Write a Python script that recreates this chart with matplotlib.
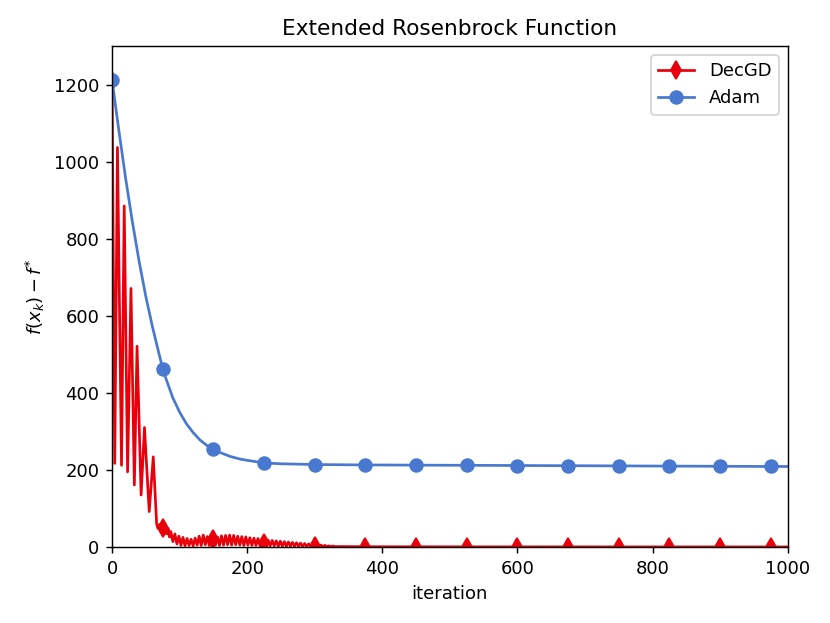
import numpy as np
import matplotlib
matplotlib.use('Agg')
import matplotlib.pyplot as plt

# Adam: smooth decay
adam_iter = [0, 10, 20, 30, 40, 50, 60, 70, 75, 80, 90, 100, 110, 120, 130, 140, 150,
             160, 175, 190, 200, 225, 250, 300, 375, 450, 525, 600, 675, 750, 825, 900, 975, 1000]
adam_val = [1212, 1082, 958, 845, 742, 650, 570, 498, 463, 436, 387, 350, 320, 297, 278, 264, 254,
            245, 235, 228, 225, 218, 216, 214, 213, 212.5, 212, 211.5, 211, 210.5, 210, 209.5, 209, 209]

# DecGD: large oscillations early, fast ripple until ~330, then ~0
dec_iter = [0, 4, 8, 14, 18, 23, 28, 33, 37, 43, 48, 55, 61, 66, 68, 70, 72, 75, 77, 79, 81, 83, 85,
            87, 90, 93, 96, 99, 102, 105, 108, 111, 114, 117, 120, 123, 126, 129, 132, 135, 138,
            141, 144, 147, 150, 153, 156, 159, 162, 165, 168, 171, 174, 177, 180, 183, 186, 189,
            192, 195, 198, 201, 204, 207, 210, 213, 216, 219, 222, 225, 228, 231, 234, 237, 240,
            243, 246, 249, 252, 255, 258, 261, 264, 267, 270, 273, 276, 279, 282, 285, 288, 291,
            294, 297, 300, 303, 306, 309, 312, 315, 318, 321, 324, 327, 330,
            340, 350, 375, 400, 450, 500, 525, 600, 675, 750, 825, 900, 975, 1000]
dec_val = [1210, 217, 1037, 212, 885, 195, 671, 161, 521, 135, 310, 92, 234, 60, 48, 58, 40, 50, 42, 58, 34, 48, 26,
           40, 14, 34, 8, 28, 4, 25, 3, 22, 4, 20, 3, 23, 5, 28, 4, 31, 6,
           27, 4, 8, 22, 5, 26, 4, 29, 5, 30, 6, 31, 5, 30, 6, 28, 5,
           27, 4, 26, 5, 24, 4, 23, 4, 22, 3, 20, 11, 3, 18, 3, 17, 3,
           16, 2, 15, 2, 14, 2, 13, 2, 12, 2, 11, 2, 10, 1.5, 9, 1.5, 8,
           1.5, 7, 3, 6, 1.5, 5, 1, 4, 1, 3, 1, 2.5, 1,
           1.2, 1.0, 0.8, 0.6, 0.5, 0.4, 0.4, 0.3, 0.3, 0.2, 0.2, 0.2, 0.1, 0.1]

mark_iters = [0, 75, 150, 225, 300, 375, 450, 525, 600, 675, 750, 825, 900, 975]

dec_mark = [i for i, it in enumerate(dec_iter) if it in mark_iters]
adam_mark = [i for i, it in enumerate(adam_iter) if it in mark_iters]

fig, ax = plt.subplots(figsize=(830/130, 623/130), dpi=130)
plt.subplots_adjust(left=0.135, right=0.949, top=0.926, bottom=0.122)

ax.plot(dec_iter, dec_val, color='#e8000b', lw=1.5, marker='d', ms=7,
        markevery=dec_mark, label='DecGD')
ax.plot(adam_iter, adam_val, color='#4878d0', lw=1.5, marker='o', ms=7,
        markevery=adam_mark, label='Adam')

ax.set_xlim(0, 1000)
ax.set_ylim(0, 1300)
ax.set_yticks([0, 200, 400, 600, 800, 1000, 1200])
ax.set_xlabel('iteration')
ax.set_ylabel(r'$f(x_k) - f^{*}$')
ax.set_title('Extended Rosenbrock Function')
ax.legend(loc='upper right')

plt.savefig('out.png', dpi=130)
